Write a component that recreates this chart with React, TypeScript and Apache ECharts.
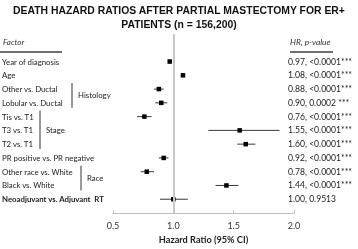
import React, { useEffect, useRef } from "react";
import * as echarts from "echarts";

const titleLines = ["DEATH HAZARD RATIOS AFTER PARTIAL MASTECTOMY FOR ER+", "PATIENTS (n = 156,200)"];
const factors = [
  "Year of diagnosis",
  "Age",
  "Other vs. Ductal",
  "Lobular vs. Ductal",
  "Tis vs. T1",
  "T3 vs. T1",
  "T2 vs. T1",
  "PR positive vs. PR negative",
  "Other race vs. White",
  "Black vs. White",
  "Neoadjuvant vs. Adjuvant  RT",
];
const hr = [0.97, 1.08, 0.88, 0.9, 0.76, 1.55, 1.6, 0.92, 0.78, 1.44, 1.0];
const ciLow = [0.96, 1.07, 0.84, 0.85, 0.7, 1.29, 1.53, 0.88, 0.73, 1.35, 0.89];
const ciHigh = [0.98, 1.09, 0.92, 0.95, 0.82, 1.88, 1.68, 0.96, 0.84, 1.54, 1.12];
const pLabels = [
  "0.97, <0.0001***",
  "1.08, <0.0001***",
  "0.88, <0.0001***",
  "0.90, 0.0002 ***",
  "0.76, <0.0001***",
  "1.55, <0.0001***",
  "1.60, <0.0001***",
  "0.92, <0.0001***",
  "0.78, <0.0001***",
  "1.44, <0.0001***",
  "1.00, 0.9513",
];
const groupNames = ["Histology", "Stage", "Race"];
const groupStart = [2, 4, 8];
const groupEnd = [3, 6, 9];
const xMin = 0.5;
const xMax = 2.0;
const xInterval = 0.5;
const refValue = 1.0;
const axisTitle = "Hazard Ratio (95% CI)";
const leftHeader = "Factor";
const rightHeader = "HR, p-value";

const FONT = "Lato, 'Noto Sans', sans-serif";
const LABEL_SIZE = 7.8;
const RIGHT_SIZE = 8.6;
const bracketX: Record<string, number> = { Histology: 72, Stage: 40, Race: 81 };
const boldRows = new Set(["Neoadjuvant vs. Adjuvant  RT"]);

export default function App() {
  const ref = useRef<HTMLDivElement>(null);
  useEffect(() => {
    const chart = echarts.init(ref.current!, null, { renderer: "svg" });
    const rowData = factors.map((_, i) => [i, ciLow[i], ciHigh[i], hr[i]]);
    const groupData = groupNames.map((g, i) => [groupStart[i], groupEnd[i], i]);
    chart.setOption({
      animation: false,
      title: {
        text: titleLines.join("\n"),
        left: "center",
        top: 3,
        padding: 0,
        textStyle: {
          fontFamily: "'Liberation Sans', Arial, sans-serif",
          fontWeight: "bold",
          fontSize: 10.4,
          lineHeight: 14,
          color: "#111",
        },
      },
      grid: { left: 113, right: 64, top: 34, bottom: 33 },
      xAxis: {
        type: "value",
        min: xMin,
        max: xMax,
        interval: xInterval,
        splitLine: { show: false },
        axisLine: { show: true, onZero: false, lineStyle: { color: "#bfbfbf", width: 1 } },
        axisTick: { show: true, inside: true, length: 3, lineStyle: { color: "#bfbfbf" } },
        axisLabel: {
          formatter: (v: number) => v.toFixed(1),
          fontFamily: FONT,
          fontSize: 9,
          color: "#333",
          margin: 8,
        },
        name: axisTitle,
        nameLocation: "middle",
        nameGap: 22,
        nameTextStyle: { fontFamily: FONT, fontSize: 9.2, fontWeight: "bold", color: "#222" },
      },
      yAxis: {
        type: "value",
        inverse: true,
        min: -2,
        max: 11,
        show: false,
      },
      graphic: [
        { type: "text", left: 3, top: 38, style: { text: leftHeader, font: `italic 8px ${FONT}`, fill: "#333" } },
        { type: "line", shape: { x1: 0, y1: 52, x2: 62, y2: 52 }, style: { stroke: "#404040", lineWidth: 1.3 } },
        { type: "text", left: 290, top: 38, style: { text: rightHeader, font: `italic 8.4px ${FONT}`, fill: "#333" } },
        { type: "line", shape: { x1: 290, y1: 52, x2: 333, y2: 52 }, style: { stroke: "#404040", lineWidth: 1.3 } },
      ],
      series: [
        {
          type: "custom",
          data: rowData,
          encode: { x: [1, 2, 3], y: 0 },
          clip: false,
          renderItem: (params: any, api: any) => {
            const i = api.value(0);
            const pLo = api.coord([api.value(1), i]);
            const pHi = api.coord([api.value(2), i]);
            const p = api.coord([api.value(3), i]);
            const idx = params.dataIndex;
            const bold = boldRows.has(factors[idx]);
            const s = 4.5;
            return {
              type: "group",
              children: [
                {
                  type: "line",
                  shape: { x1: pLo[0], y1: pLo[1], x2: pHi[0], y2: pHi[1] },
                  style: { stroke: "#3a3a3a", lineWidth: 1 },
                },
                {
                  type: "rect",
                  shape: { x: p[0] - s / 2, y: p[1] - s / 2, width: s, height: s },
                  style: { fill: "#000" },
                },
                {
                  type: "text",
                  x: 2,
                  y: p[1],
                  style: {
                    text: factors[idx],
                    font: `${bold ? "bold " : ""}${LABEL_SIZE}px ${FONT}`,
                    fill: "#222",
                    verticalAlign: "middle",
                    align: "left",
                  },
                },
                {
                  type: "text",
                  x: 288,
                  y: p[1],
                  style: {
                    text: pLabels[idx],
                    font: `${RIGHT_SIZE}px ${FONT}`,
                    fill: "#222",
                    verticalAlign: "middle",
                    align: "left",
                  },
                },
              ],
            };
          },
          markLine: {
            silent: true,
            symbol: "none",
            label: { show: false },
            lineStyle: { color: "#c8c8c8", width: 2, type: "solid" },
            data: [{ xAxis: refValue }],
          },
        },
        {
          type: "custom",
          data: groupData,
          encode: { y: [0, 1] },
          clip: false,
          renderItem: (params: any, api: any) => {
            const g = groupNames[params.dataIndex];
            const top = api.coord([xMin, api.value(0)])[1] - 6;
            const bot = api.coord([xMin, api.value(1)])[1] + 5;
            const bx = bracketX[g];
            return {
              type: "group",
              children: [
                { type: "line", shape: { x1: bx, y1: top, x2: bx, y2: bot }, style: { stroke: "#333", lineWidth: 1 } },
                {
                  type: "text",
                  x: bx + 6,
                  y: (top + bot) / 2,
                  style: { text: g, font: `${LABEL_SIZE}px ${FONT}`, fill: "#222", verticalAlign: "middle", align: "left" },
                },
              ],
            };
          },
        },
      ],
    });
    return () => chart.dispose();
  }, []);
  return <div ref={ref} style={{ position: "fixed", left: 0, top: 0, width: 358, height: 249 }} />;
}
